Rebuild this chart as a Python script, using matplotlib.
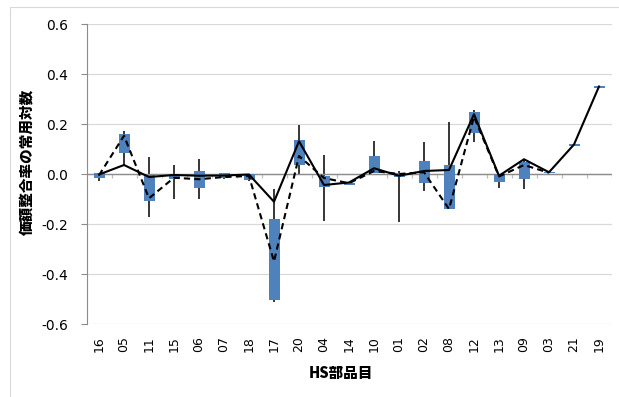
import numpy as np
import matplotlib
matplotlib.use("Agg")
import matplotlib.pyplot as plt
from matplotlib.patches import Rectangle

# HS section codes along the x axis
codes = ["16", "05", "11", "15", "06", "07", "18", "17", "20", "04", "14",
         "10", "01", "02", "08", "12", "13", "09", "03", "21", "19"]

# box ends (blue bars)
box_open = [0.003, 0.160, -0.005, 0.001, 0.012, 0.003, 0.002, -0.180, 0.136, -0.008, -0.035,
            0.072, 0.003, 0.052, 0.036, 0.247, -0.001, 0.049, 0.008, 0.121, 0.353]
box_close = [-0.017, 0.084, -0.107, -0.021, -0.056, -0.016, -0.022, -0.502, 0.035, -0.050, -0.043,
             0.003, -0.013, -0.037, -0.141, 0.163, -0.031, -0.020, 0.003, 0.114, 0.346]

# high / low whiskers
high = [0.003, 0.172, 0.068, 0.036, 0.060, 0.003, 0.002, -0.061, 0.196, 0.076, -0.035,
        0.132, 0.013, 0.127, 0.207, 0.256, -0.001, 0.060, 0.008, 0.121, 0.353]
low = [-0.027, 0.035, -0.172, -0.100, -0.101, -0.018, -0.028, -0.512, 0.000, -0.187, -0.043,
       0.003, -0.190, -0.067, -0.141, 0.130, -0.057, -0.061, 0.003, 0.114, 0.346]

# solid and dashed series
solid = [-0.002, 0.036, -0.012, -0.004, -0.007, -0.006, -0.002, -0.111, 0.131, -0.044, -0.034,
         0.023, -0.007, 0.012, 0.016, 0.239, -0.007, 0.059, 0.007, 0.118, 0.350]
dashed = [-0.005, 0.153, -0.097, -0.015, -0.021, -0.012, -0.008, -0.350, 0.072, -0.016, -0.037,
          0.012, 0.000, 0.007, -0.140, 0.229, -0.010, 0.036, 0.005, np.nan, np.nan]

y_ticks = [-0.6, -0.4, -0.2, 0.0, 0.2, 0.4, 0.6]
y_labels = ["-0.6", "-0.4", "-0.2", "0.0", "0.2", "0.4", "0.6"]

x = np.arange(len(codes))
lo = np.minimum(box_open, box_close)
hi = np.maximum(box_open, box_close)

fig = plt.figure(figsize=(6.19, 3.97), dpi=100)
fig.patches.append(Rectangle((10 / 619, -0.05), 1.2, 1.05 - 7 / 397, transform=fig.transFigure,
                             fill=False, edgecolor="#D9D9D9", linewidth=0.8))
ax = fig.add_axes([86.5 / 619, 73 / 397, 525 / 619, 300 / 397])

ax.set_xlim(-0.5, len(codes) - 0.5)
ax.set_ylim(-0.6, 0.6)
ax.set_yticks(y_ticks)
ax.set_yticklabels(y_labels)
ax.grid(axis="y", color="#D9D9D9", linewidth=0.9)
ax.set_axisbelow(True)

ax.vlines(x, low, high, color="black", linewidth=1.1, zorder=2)
ax.bar(x, hi - lo, bottom=lo, width=0.44, color="#4F81BD", zorder=3)
ax.axhline(0, color="#8C8C8C", linewidth=1.0, zorder=2.5)
# category separator ticks hanging below the zero line
ax.vlines(np.arange(0.5, len(codes), 1.0), -0.017, 0, color="#BFBFBF", linewidth=0.9, zorder=2.4)
ax.plot(x, solid, color="black", linewidth=1.5, zorder=4)
ax.plot(x, dashed, color="black", linewidth=1.5, linestyle=(0, (3, 2)), zorder=4)

for s in ["top", "right", "bottom"]:
    ax.spines[s].set_visible(False)
ax.spines["left"].set_color("#8C8C8C")
ax.tick_params(axis="y", length=4, color="#8C8C8C", labelsize=10, pad=9)
ax.set_xticks(x)
ax.set_xticklabels(codes, rotation=90, fontsize=9)
ax.tick_params(axis="x", length=0, pad=9)

cjk = ["Noto Sans CJK JP", "DejaVu Sans"]
fig.text(27 / 619, 1 - 162 / 397, "価額整合率の常用対数", rotation=90, ha="center", va="center",
         fontsize=10.5, fontweight="black", family=cjk)
fig.text(341 / 619, 1 - 373 / 397, "HS部品目", ha="center", va="center",
         fontsize=10.5, fontweight="black", family=cjk)

fig.savefig("out.png", dpi=100)
